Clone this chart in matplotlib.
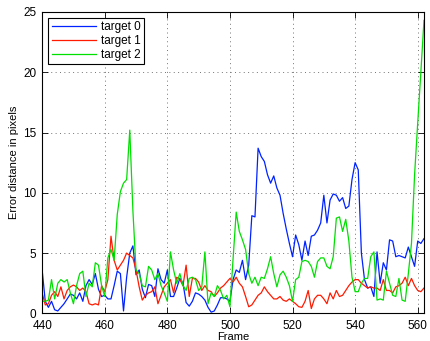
import numpy as np
import matplotlib
matplotlib.use("Agg")
import matplotlib.pyplot as plt

frames = list(range(440, 563))

target0 = [3.6, 1.0, 0.5, 1.0, 0.3, 0.2, 0.5, 0.8, 1.2, 1.6, 1.5, 1.2, 1.7, 1.0, 2.3, 2.8, 2.4, 3.3, 2.0, 1.4,
           1.5, 1.2, 1.2, 2.3, 3.5, 3.3, 0.2, 3.0, 5.0, 5.6, 3.2, 3.6, 2.0, 1.3, 2.4, 2.3, 1.4, 3.7, 2.8, 2.5,
           3.6, 1.4, 1.4, 2.1, 2.9, 2.5, 0.9, 0.6, 1.0, 1.7, 1.6, 1.4, 1.1, 0.5, 0.1, 0.2, 0.7, 1.3, 1.3, 1.2,
           1.0, 2.8, 3.6, 3.4, 4.4, 2.8, 4.0, 8.1, 8.0, 13.7, 13.0, 12.6, 11.5, 10.8, 11.4, 10.4, 9.8, 8.3, 7.0, 5.8,
           4.7, 6.5, 5.7, 4.4, 6.0, 4.8, 6.4, 6.5, 6.9, 7.5, 9.8, 7.5, 9.4, 9.9, 9.8, 9.3, 9.6, 8.7, 8.9, 11.1,
           12.5, 11.9, 5.0, 2.8, 2.1, 2.2, 1.4, 5.1, 2.5, 4.2, 3.6, 6.1, 6.0, 4.7, 4.8, 4.7, 4.6, 5.5, 4.7, 3.9,
           6.0, 5.8, 6.2]

target1 = [1.7, 0.7, 0.8, 1.5, 1.8, 1.4, 2.2, 1.2, 1.9, 2.2, 2.35, 2.2, 1.9, 2.1, 1.8, 0.8, 0.7, 0.8, 0.7, 2.3,
           1.8, 2.8, 6.4, 4.4, 3.6, 4.0, 4.4, 5.0, 4.8, 4.6, 3.6, 2.2, 1.1, 1.5, 1.7, 1.8, 2.2, 0.8, 1.5, 2.2,
           2.5, 2.8, 1.7, 3.0, 2.8, 2.3, 4.0, 1.4, 2.9, 2.9, 2.6, 1.9, 2.3, 1.9, 1.8, 1.4, 1.7, 2.1, 2.3, 2.6,
           2.9, 2.6, 3.0, 2.5, 2.2, 1.4, 0.55, 0.7, 1.1, 1.5, 1.7, 2.2, 1.8, 1.5, 1.2, 1.2, 1.4, 1.1, 1.0, 1.2,
           1.0, 0.8, 0.55, 0.5, 1.0, 1.9, 0.4, 1.2, 1.5, 1.5, 1.2, 0.8, 1.7, 1.2, 1.9, 1.4, 1.5, 1.9, 2.3, 2.6,
           2.8, 2.8, 2.5, 2.3, 2.1, 2.2, 2.1, 2.1, 1.9, 2.8, 1.9, 1.9, 1.7, 2.2, 2.3, 2.5, 3.0, 2.3, 2.9, 2.3,
           1.9, 1.8, 2.1]

target2 = [1.0, 1.0, 1.1, 2.8, 1.2, 2.5, 2.8, 2.6, 2.8, 1.7, 0.8, 2.3, 3.3, 3.5, 1.4, 2.5, 2.2, 4.2, 4.0, 2.3,
           1.4, 4.6, 5.3, 4.4, 8.2, 10.1, 10.8, 11.1, 15.2, 8.5, 3.6, 3.3, 2.3, 2.2, 3.9, 3.6, 2.8, 3.3, 2.3, 1.7,
           1.0, 5.1, 3.6, 2.5, 3.3, 2.3, 1.9, 2.9, 3.0, 2.8, 1.9, 2.2, 5.1, 0.8, 1.7, 1.4, 2.3, 1.9, 1.2, 1.5,
           0.55, 4.5, 8.4, 6.8, 6.1, 5.3, 3.3, 2.5, 3.0, 2.3, 3.0, 2.9, 3.7, 4.7, 3.3, 2.2, 3.2, 3.5, 3.0, 2.3,
           1.0, 2.8, 3.0, 4.3, 4.4, 4.3, 3.9, 3.0, 4.3, 4.6, 4.6, 3.9, 3.7, 4.7, 7.9, 8.0, 6.8, 7.8, 6.0, 3.0,
           1.8, 1.8, 2.5, 2.9, 2.9, 4.7, 5.1, 1.1, 1.2, 1.1, 3.5, 2.5, 1.5, 1.4, 2.9, 1.1, 1.0, 3.3, 5.8, 11.5,
           15.8, 20.0, 24.3]

labels = ["target 0", "target 1", "target 2"]
colors = ["#0022ff", "#ff1a00", "#00e000"]
xticks = [440, 460, 480, 500, 520, 540, 560]
yticks = [0, 5, 10, 15, 20, 25]

plt.rcParams['font.family'] = ['Liberation Sans', 'DejaVu Sans']
plt.rcParams['font.size'] = 8

fig = plt.figure(figsize=(4.3, 3.41), dpi=100)
ax = fig.add_axes([0.098, 0.081, 0.888, 0.884])

for ser, lab, col in zip([target0, target1, target2], labels, colors):
    ax.plot(frames, ser, color=col, linewidth=0.9, label=lab)

ax.set_xlim(440, 562)
ax.set_ylim(0, 25)
ax.set_xticks(xticks)
ax.set_yticks(yticks)
ax.tick_params(direction='in', top=True, right=True, length=4, width=0.6, labelsize=8.5)
ax.tick_params(axis='x', pad=4.5)
ax.tick_params(axis='y', pad=4)
ax.grid(True, color='0.45', linestyle=(0, (1, 3.5)), linewidth=0.7)
for s in ax.spines.values():
    s.set_linewidth(0.8)
ax.set_xlabel("Frame", fontsize=8, labelpad=0)
ax.set_ylabel("Error distance in pixels", fontsize=8, labelpad=3)

leg = ax.legend(loc='upper left', fancybox=False, edgecolor='black', framealpha=1,
                handlelength=3.8, borderpad=0.3, labelspacing=0.15, handletextpad=0.4,
                borderaxespad=0.5, fontsize=8.5)
leg.get_frame().set_linewidth(0.8)

fig.savefig("out.png", dpi=100)
